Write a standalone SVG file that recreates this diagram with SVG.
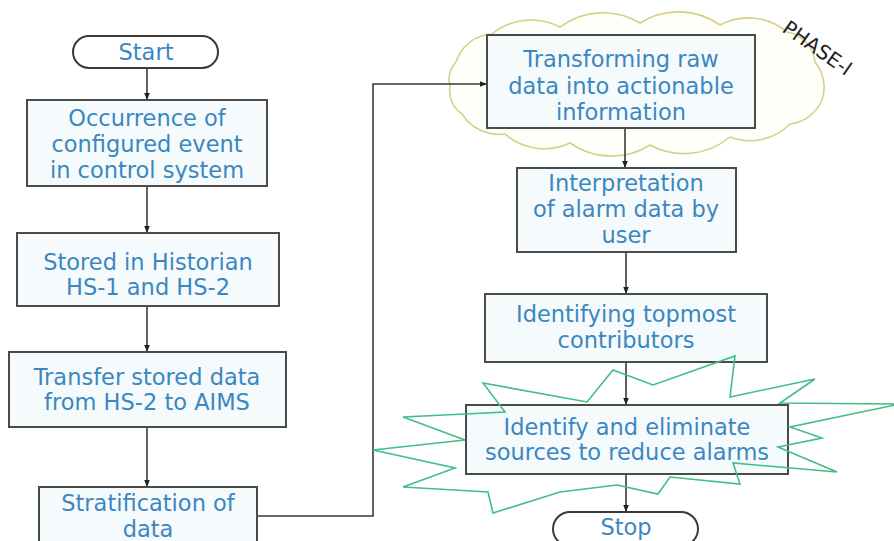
<svg xmlns="http://www.w3.org/2000/svg" width="894" height="541" viewBox="0 0 894 541">
<defs>
<style>
.box{fill:#f5fafd;stroke:#4a4a4a;stroke-width:2}
.term{fill:#ffffff;stroke:#3a3a3a;stroke-width:2}
.t{font-family:"DejaVu Sans",Verdana,sans-serif;font-size:22.5px;fill:#3b87c0;text-anchor:middle}
.conn{fill:none;stroke:#3a3a3a;stroke-width:1.6}
.cloud{fill:#fffffa;stroke:#d8cf88;stroke-width:1.6}
.burst{fill:none;stroke:#3fbf86;stroke-width:1.6;stroke-linejoin:miter}
.phase{font-family:"DejaVu Sans",Verdana,sans-serif;font-size:20px;fill:#222}
</style>
<marker id="ah" viewBox="0 0 10 10" refX="10" refY="5" markerWidth="7" markerHeight="7" orient="auto" markerUnits="userSpaceOnUse">
<path d="M0,1 L10,5 L0,9 z" fill="#222"/>
</marker>
</defs>
<rect width="894" height="541" fill="#ffffff"/>

<g id="phase1-cloud">
<path class="cloud" d="M456,62 A40,40 0 0 1 492,34 A62,62 0 0 1 560,27 A72,72 0 0 1 640,23 A72,72 0 0 1 720,25 A60,60 0 0 1 787,32 A34,34 0 0 1 815,62 A40,40 0 0 1 822,100 A40,40 0 0 1 790,124 A56,56 0 0 1 730,137 A72,72 0 0 1 650,145 A72,72 0 0 1 570,143 A60,60 0 0 1 505,134 A44,44 0 0 1 462,114 A28,28 0 0 1 450,86 A26,26 0 0 1 456,62 Z"/>
<text class="phase" transform="translate(781,31) rotate(35)">PHASE-I</text>
</g>

<g id="connectors">
<line class="conn" x1="147" y1="68" x2="147" y2="100" marker-end="url(#ah)"/>
<line class="conn" x1="147" y1="186" x2="147" y2="233" marker-end="url(#ah)"/>
<line class="conn" x1="147" y1="306" x2="147" y2="352" marker-end="url(#ah)"/>
<line class="conn" x1="147" y1="427" x2="147" y2="487" marker-end="url(#ah)"/>
<polyline class="conn" points="257,516 373,516 373,84 487,84" marker-end="url(#ah)"/>
<line class="conn" x1="625" y1="128" x2="625" y2="168" marker-end="url(#ah)"/>
<line class="conn" x1="626" y1="252" x2="626" y2="294" marker-end="url(#ah)"/>
<line class="conn" x1="626" y1="362" x2="626" y2="405" marker-end="url(#ah)"/>
<line class="conn" x1="626" y1="474" x2="626" y2="512" marker-end="url(#ah)"/>
</g>

<g id="start">
<rect class="term" x="73" y="36" width="145" height="32" rx="16" ry="16"/>
<text class="t" x="146" y="60">Start</text>
</g>

<g id="n1">
<rect class="box" x="27" y="100" width="240" height="86"/>
<text class="t" x="147" y="126">Occurrence of</text>
<text class="t" x="147" y="152">configured event</text>
<text class="t" x="147" y="178">in control system</text>
</g>

<g id="n2">
<rect class="box" x="17" y="233" width="262" height="73"/>
<text class="t" x="148" y="270">Stored in Historian</text>
<text class="t" x="148" y="295">HS-1 and HS-2</text>
</g>

<g id="n3">
<rect class="box" x="9" y="352" width="277" height="75"/>
<text class="t" x="147" y="385">Transfer stored data</text>
<text class="t" x="147" y="410">from HS-2 to AIMS</text>
</g>

<g id="n4">
<rect class="box" x="39" y="487" width="218" height="60"/>
<text class="t" x="148" y="511">Stratification of</text>
<text class="t" x="148" y="537">data</text>
</g>

<g id="n5">
<rect class="box" x="487" y="35" width="268" height="93"/>
<text class="t" x="621" y="67">Transforming raw</text>
<text class="t" x="621" y="94">data into actionable</text>
<text class="t" x="621" y="120">information</text>
</g>

<g id="n6">
<rect class="box" x="517" y="168" width="219" height="84"/>
<text class="t" x="626" y="191">Interpretation</text>
<text class="t" x="626" y="217">of alarm data by</text>
<text class="t" x="626" y="243">user</text>
</g>

<g id="n7">
<rect class="box" x="485" y="294" width="282" height="68"/>
<text class="t" x="626" y="322">Identifying topmost</text>
<text class="t" x="626" y="348">contributors</text>
</g>

<g id="n8">
<rect class="box" x="466" y="405" width="322" height="69"/>
<text class="t" x="627" y="435">Identify and eliminate</text>
<text class="t" x="627" y="460">sources to reduce alarms</text>
</g>

<g id="burst">
<polygon class="burst" points="483,383 587,402 613,370 653,385 735,356 730,397 815,379 780,403 900,404 790,427 822,438 778,447 837,472 733,463 740,484 670,477 658,494 617,485 560,492 493,513 488,492 403,487 455,468 373,450 465,440 403,417 505,412"/>
</g>

<g id="stop">
<rect class="term" x="553" y="512" width="145" height="34" rx="17" ry="17"/>
<text class="t" x="626" y="535">Stop</text>
</g>
</svg>
